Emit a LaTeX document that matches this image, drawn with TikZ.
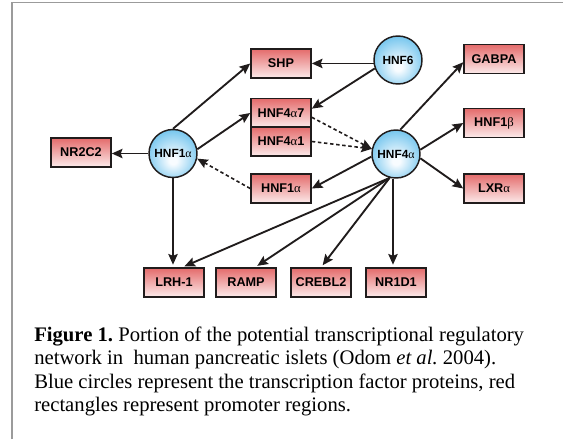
\documentclass[tikz,border=0pt]{standalone}
\usepackage{fontspec}
\setmainfont{Liberation Serif}
\newfontfamily\arialf{Liberation Sans}
\newfontfamily\grk{Liberation Serif}
\usetikzlibrary{arrows.meta,calc}
\definecolor{boxtop}{RGB}{228,108,108}
\definecolor{boxbot}{RGB}{252,234,234}
\definecolor{circout}{RGB}{104,192,236}
\definecolor{circin}{RGB}{248,252,255}
\definecolor{framegray}{RGB}{155,155,155}
\definecolor{edgecol}{RGB}{32,28,28}
\pgfdeclareradialshading{bluesph}{\pgfpoint{0bp}{-8bp}}{color(0bp)=(circin); color(4bp)=(circin); color(31bp)=(circout); color(50bp)=(circout)}
\newcommand\ga{{\grk\mdseries α}}
\newcommand\gb{{\grk\mdseries β}}
\tikzset{
  pbox/.style={draw=edgecol, line width=1.2pt, minimum width=45pt, minimum height=21.5pt,
    inner sep=0pt, top color=boxtop, bottom color=boxbot,
    font=\arialf\bfseries\fontsize{9.5}{11}\selectfont},
  tf/.style={circle, draw=edgecol, line width=1.1pt, minimum size=36pt, inner sep=0pt,
    shading=bluesph, font=\arialf\bfseries\fontsize{8.9}{10}\selectfont},
  arr/.style={draw=edgecol, line width=1.4pt, -{Stealth[length=8pt,width=7pt,inset=1.3pt]}},
  dsh/.style={arr, line width=1.2pt, dash pattern=on 2.6pt off 2pt},
  captxt/.style={anchor=base west, inner sep=0pt, font=\fontsize{15.5}{18}\selectfont\frenchspacing}
}
\begin{document}
\begin{tikzpicture}[x=0.75pt,y=-0.75pt]
\useasboundingbox (0,0) rectangle (563,439);
\draw[framegray, line width=1.2pt] (12,439) -- (12,2.5) -- (563,2.5);
% promoter boxes
\node[pbox] (shp) at (281,63.5) {SHP};
\node[pbox] (a7) at (281,113) {HNF4\ga7};
\node[pbox] (a1) at (281,141.5) {HNF4\ga1};
\node[pbox] (h1box) at (281,188.5) {HNF1\ga};
\node[pbox] (nr2c2) at (81,152.5) {NR2C2};
\node[pbox] (gabpa) at (494,59) {GABPA};
\node[pbox] (hnf1b) at (494,123) {HNF1\gb};
\node[pbox] (lxr) at (494,188.5) {LXR\ga};
\node[pbox] (lrh) at (174,282.5) {LRH-1};
\node[pbox] (ramp) at (246,282.5) {RAMP};
\node[pbox] (crebl2) at (321,282.5) {CREBL2};
\node[pbox] (nr1d1) at (396,282.5) {NR1D1};
% transcription factors
\node[tf] (h1) at (173,153.5) {HNF1\ga};
\node[tf] (hnf6) at (398,60) {HNF6};
\node[tf] (hnf4) at (396,154) {HNF4\ga};
% connectors
\draw[arr] (h1.north) -- (shp.west);
\draw[arr] (h1.10) -- (a7.west);
\draw[arr] (h1.west) -- (h1.west -| nr2c2.east);
\draw[dsh] (h1box.west) -- (h1.-12);
\draw[arr, shorten >=2pt] (h1.south) -- (h1.south |- lrh.north);
\draw[arr] (hnf6.188) -- (hnf6.188 -| shp.east);
\draw[arr] (hnf6.200) -- (a7.8);
\draw[dsh] (a7.-8) -- (hnf4.168);
\draw[dsh] (a1.east) -- (hnf4.168);
\draw[arr] (hnf4.186) -- (h1box.east);
\draw[arr] (hnf4.80) -- (gabpa.186);
\draw[arr] (hnf4.10) -- (hnf1b.west);
\draw[arr] (hnf4.-10) -- (lxr.west);
\draw[arr, shorten >=2pt] (hnf4.255) -- ($(lrh.north)+(8,0)$);
\draw[arr, shorten >=2pt] (hnf4.255) -- ($(ramp.north)+(9,0)$);
\draw[arr, shorten >=2pt] (hnf4.255) -- (crebl2.north);
\draw[arr, shorten >=2pt] (hnf4.263) -- (hnf4.263 |- nr1d1.north);
% caption
\node[captxt] (c1) at (34,341) {\textbf{Figure 1.} Portion of the potential transcriptional regulatory};
\node[captxt] (c2) at (34,364.5) {network in\ \ human pancreatic islets (Odom \textit{et al.}\ 2004).};
\node[captxt] (c3) at (34,388) {Blue circles represent the transcription factor proteins, red};
\node[captxt] (c4) at (34,411) {rectangles represent promoter regions.};
\end{tikzpicture}
\end{document}
